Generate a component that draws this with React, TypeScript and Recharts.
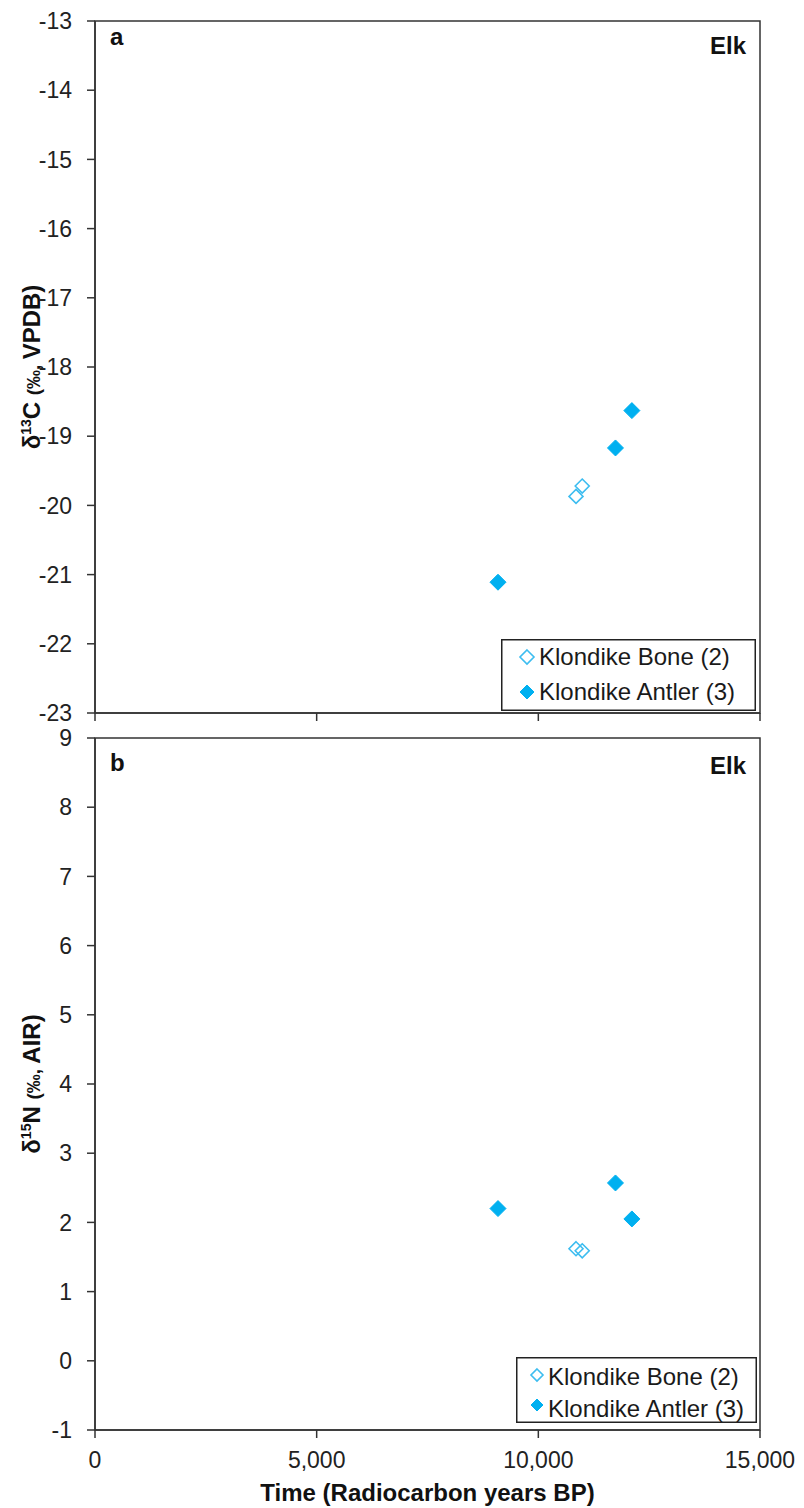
import { ScatterChart, Scatter, XAxis, YAxis, ReferenceArea, Legend, Label } from "recharts";

// values
const seriesNames = ["Klondike Bone (2)", "Klondike Antler (3)"];
const boneYears = [10850, 10990];
const antlerYears = [9090, 11740, 12110];
const boneCarbon = [-19.87, -19.72];
const antlerCarbon = [-21.11, -19.17, -18.63];
const boneNitrogen = [1.62, 1.59];
const antlerNitrogen = [2.2, 2.57, 2.05];
const yearTicks = [0, 5000, 10000, 15000];
const carbonTicks = [-23, -22, -21, -20, -19, -18, -17, -16, -15, -14, -13];
const nitrogenTicks = [-1, 0, 1, 2, 3, 4, 5, 6, 7, 8, 9];

const BLUE = "#00B0F0";
const OPEN_BLUE = "#3DBDF0";
const AXIS = "#333";
const FONT = "'Liberation Sans', Arial, sans-serif";

const toPoints = (xs: number[], ys: number[]) => xs.map((x, i) => ({ x, y: ys[i] }));

const diamondPath = (cx: number, cy: number, r: number) =>
  `M${cx},${cy - r}L${cx + r},${cy}L${cx},${cy + r}L${cx - r},${cy}Z`;

const diamond = (r: number, open: boolean) => (props: any) => (
  <path
    d={diamondPath(props.cx, props.cy, r)}
    fill={open ? "none" : BLUE}
    stroke={open ? OPEN_BLUE : BLUE}
    strokeWidth={open ? 1.6 : 1}
  />
);

interface LegendBox {
  left: number;
  top: number;
  w: number;
  h: number;
  markerX: number;
  markerR: number;
  textX: number;
  rowY: number[];
  baseY: number[];
}

const makeLegend = (box: LegendBox) => (props: any) => {
  // keep the series order of the figure (bone first)
  const payload = [...(props.payload || [])].sort(
    (a: any, b: any) => seriesNames.indexOf(a.value) - seriesNames.indexOf(b.value)
  );
  return (
    <svg width={box.w} height={box.h} style={{ display: "block" }}>
      <rect x={0.75} y={0.75} width={box.w - 1.5} height={box.h - 1.5} fill="#fff" stroke="#222" strokeWidth={1.5} />
      {payload.map((entry: any, i: number) => {
        const open = entry.value === seriesNames[0];
        return (
          <g key={entry.value}>
            <path
              d={diamondPath(box.markerX, box.rowY[i], box.markerR)}
              fill={open ? "#fff" : BLUE}
              stroke={open ? OPEN_BLUE : BLUE}
              strokeWidth={open ? 1.6 : 1}
            />
            <text x={box.textX} y={box.baseY[i]} fontSize={24} fontFamily={FONT} fill="#1a1a1a">
              {entry.value}
            </text>
          </g>
        );
      })}
    </svg>
  );
};

const yTitle = (iso: string, el: string, unit: string) => (props: any) => {
  const vb = props.viewBox;
  const cy = vb.y + vb.height / 2;
  return (
    <text
      transform={`translate(40, ${cy}) rotate(-90)`}
      textAnchor="middle"
      fontFamily={FONT}
      fontWeight="bold"
      fontSize={24}
      fill="#111"
    >
      <tspan>δ</tspan>
      <tspan fontSize={14} dy={-9}>{iso}</tspan>
      <tspan dy={9}>{el} </tspan>
      <tspan fontSize={19}>(‰, </tspan>
      <tspan>{unit})</tspan>
    </text>
  );
};

const cornerText = (letter: string, letterDy: number, elkDy: number) => (props: any) => {
  const vb = props.viewBox;
  return (
    <g fontFamily={FONT} fontWeight="bold" fontSize={24} fill="#111">
      <text x={vb.x + 15} y={vb.y + letterDy}>{letter}</text>
      <text x={vb.x + vb.width - 14} y={vb.y + elkDy} textAnchor="end">Elk</text>
    </g>
  );
};

interface PanelProps {
  top: number;
  height: number;
  marginTop: number;
  xAxisHeight: number;
  domain: [number, number];
  ticks: number[];
  bone: number[];
  antler: number[];
  iso: string;
  el: string;
  unit: string;
  letter: string;
  letterDy: number;
  elkDy: number;
  showYears: boolean;
  legend: LegendBox;
}

function Panel(p: PanelProps) {
  return (
    <div style={{ position: "absolute", left: 0, top: p.top, width: 804, height: p.height }}>
      <ScatterChart width={804} height={p.height} margin={{ top: p.marginTop, right: 44, bottom: 0, left: 0 }}>
        <XAxis
          type="number"
          dataKey="x"
          domain={[0, 15000]}
          ticks={yearTicks}
          interval={0}
          height={p.xAxisHeight}
          tickSize={8}
          tickMargin={14}
          axisLine={{ stroke: AXIS, strokeWidth: 1.5 }}
          tickLine={{ stroke: AXIS, strokeWidth: 1.5 }}
          tick={{ fontSize: 23, fill: "#222", fontFamily: FONT }}
          tickFormatter={(v: number) => (p.showYears ? v.toLocaleString("en-US") : "")}
          label={
            p.showYears
              ? {
                  value: "Time (Radiocarbon years BP)",
                  position: "insideBottom",
                  offset: 7,
                  fontSize: 24,
                  fontWeight: "bold",
                  fill: "#111",
                  fontFamily: FONT,
                }
              : undefined
          }
        />
        <YAxis
          type="number"
          dataKey="y"
          domain={p.domain}
          ticks={p.ticks}
          interval={0}
          width={95}
          tickSize={8}
          tickMargin={15}
          allowDataOverflow
          axisLine={{ stroke: AXIS, strokeWidth: 1.5 }}
          tickLine={{ stroke: AXIS, strokeWidth: 1.5 }}
          tick={{ fontSize: 23, fill: "#222", fontFamily: FONT }}
          label={{ content: yTitle(p.iso, p.el, p.unit) }}
        />
        <ReferenceArea
          x1={0}
          x2={15000}
          y1={p.domain[0]}
          y2={p.domain[1]}
          fill="none"
          stroke={AXIS}
          strokeWidth={1.5}
          ifOverflow="visible"
        >
          <Label content={cornerText(p.letter, p.letterDy, p.elkDy)} />
        </ReferenceArea>
        <Scatter
          name={seriesNames[0]}
          data={toPoints(boneYears, p.bone)}
          fill={OPEN_BLUE}
          shape={diamond(7, true)}
          isAnimationActive={false}
        />
        <Scatter
          name={seriesNames[1]}
          data={toPoints(antlerYears, p.antler)}
          fill={BLUE}
          shape={diamond(8, false)}
          isAnimationActive={false}
        />
        <Legend
          layout="vertical"
          align="center"
          verticalAlign="middle"
          content={makeLegend(p.legend)}
          wrapperStyle={{ left: p.legend.left, top: p.legend.top - p.top, width: p.legend.w, height: p.legend.h }}
        />
      </ScatterChart>
    </div>
  );
}

export default function App() {
  return (
    <div style={{ position: "absolute", left: 0, top: 0, width: 804, height: 1508, background: "#fff" }}>
      <Panel
        top={0}
        height={730}
        marginTop={21}
        xAxisHeight={17}
        domain={[-23, -13]}
        ticks={carbonTicks}
        bone={boneCarbon}
        antler={antlerCarbon}
        iso="13"
        el="C"
        unit="VPDB"
        letter="a"
        letterDy={24}
        elkDy={33}
        showYears={false}
        legend={{ left: 501, top: 639, w: 255, h: 72, markerX: 26, markerR: 7, textX: 38, rowY: [18, 53], baseY: [26, 61] }}
      />
      <Panel
        top={720}
        height={788}
        marginTop={18}
        xAxisHeight={78}
        domain={[-1, 9]}
        ticks={nitrogenTicks}
        bone={boneNitrogen}
        antler={antlerNitrogen}
        iso="15"
        el="N"
        unit="AIR"
        letter="b"
        letterDy={33}
        elkDy={36}
        showYears={true}
        legend={{ left: 516, top: 1357, w: 241, h: 66, markerX: 21, markerR: 6, textX: 32, rowY: [18, 48], baseY: [28, 60] }}
      />
    </div>
  );
}
